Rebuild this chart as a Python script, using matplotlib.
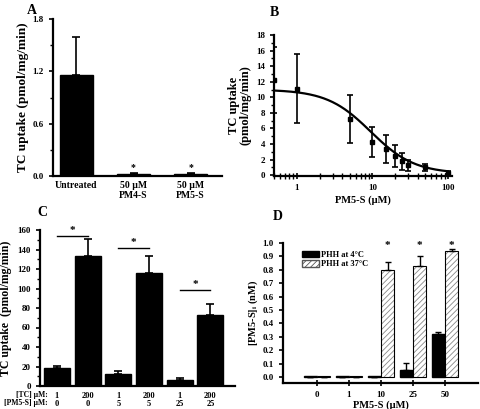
import numpy as np
import matplotlib.pyplot as plt
from matplotlib.ticker import MultipleLocator, LogLocator, NullFormatter
from matplotlib.patches import Patch

plt.rcParams['font.family'] = ['Liberation Serif', 'DejaVu Serif']
plt.rcParams['font.weight'] = 'bold'
plt.rcParams['axes.labelweight'] = 'bold'
plt.rcParams['hatch.linewidth'] = 0.6

# panel A
a_labels = ['Untreated', '50 µM\nPM4-S', '50 µM\nPM5-S']
a_values = [1.16, 0.02, 0.02]
a_err = [0.43, 0.01, 0.01]

# panel B
b_conc = [0.5, 1, 5, 10, 15, 20, 25, 30, 50, 100]
b_uptake = [12.2, 11.1, 7.2, 4.3, 3.4, 2.5, 1.8, 1.3, 1.0, 0.3]
b_err = [4.2, 4.4, 3.1, 1.9, 1.8, 1.4, 1.1, 0.7, 0.5, 0.2]
# fitted sigmoid parameters (top, bottom, IC50, hill)
b_fit = (11.0, 0.2, 9.5, 1.5)

# panel C
c_tc = ['1', '200', '1', '200', '1', '200']
c_pm5s = ['0', '0', '5', '5', '25', '25']
c_values = [18, 133, 12.5, 115.5, 6.5, 72.5]
c_err = [2.5, 18, 3, 17.5, 1.5, 12]
c_sig = [(0, 1, 154), (2, 3, 142), (4, 5, 98)]

# panel D
d_labels = ['0', '1', '10', '25', '50']
d_4c = [0, 0, 0, 0.055, 0.32]
d_4c_err = [0, 0, 0, 0.05, 0.015]
d_37c = [0, 0, 0.795, 0.83, 0.94]
d_37c_err = [0, 0, 0.06, 0.07, 0.015]

W, H = 480, 409
fig = plt.figure(figsize=(W / 100, H / 100), dpi=100)


def box(l, r, t, b):
    return [l / W, (H - b) / H, (r - l) / W, (b - t) / H]


def style(ax):
    for s in ['top', 'right']:
        ax.spines[s].set_visible(False)
    for s in ['left', 'bottom']:
        ax.spines[s].set_linewidth(1.6)
    ax.tick_params(labelsize=6.5, width=1.2, length=3)
    ax.tick_params(which='minor', width=1.0, length=2)


# ---- A
ax = fig.add_axes(box(53, 222, 19, 176))
style(ax)
x = np.arange(len(a_values))
ax.bar(x, a_values, width=0.58, color='black', edgecolor='black')
ax.errorbar(x, a_values, yerr=[np.zeros(3), a_err], fmt='none', ecolor='black',
            elinewidth=1.2, capsize=3, capthick=1.2)
for i in [1, 2]:
    ax.text(i, 0.1, '*', ha='center', va='center', fontsize=7)
ax.set_xlim(-0.41, 2.55)
ax.set_ylim(0, 1.8)
ax.yaxis.set_major_locator(MultipleLocator(0.6))
ax.yaxis.set_minor_locator(MultipleLocator(0.3))
ax.yaxis.set_major_formatter(lambda v, p: f'{v:.1f}')
ax.set_xticks(x, a_labels)
ax.tick_params(axis='x', length=0, labelsize=7)
ax.set_ylabel('TC uptake (pmol/mg/min)', fontsize=9.5, labelpad=3)
fig.text(27 / W, 1 - 10 / H, 'A', fontsize=10, fontweight='bold', va='center')

# ---- B
ax = fig.add_axes(box(274, 452, 35, 176))
style(ax)
ax.set_xscale('log')
top, bot, ic50, hill = b_fit
xc = np.logspace(np.log10(0.5), np.log10(100), 200)
ax.plot(xc, bot + (top - bot) / (1 + (xc / ic50) ** hill), color='black', lw=1.6)
ax.errorbar(b_conc, b_uptake, yerr=b_err, fmt='s', ms=3, color='black',
            elinewidth=1.2, capsize=2.5, capthick=1.2)
ax.set_xlim(0.5, 113)
ax.set_ylim(-0.1, 18)
ax.yaxis.set_major_locator(MultipleLocator(2))
ax.yaxis.set_minor_locator(MultipleLocator(1))
ax.xaxis.set_major_locator(LogLocator(base=10))
ax.xaxis.set_minor_locator(LogLocator(base=10, subs=np.arange(2, 10)))
ax.xaxis.set_minor_formatter(NullFormatter())
ax.xaxis.set_major_formatter(lambda v, p: f'{v:g}')
ax.tick_params(axis='x', direction='inout', length=5)
ax.tick_params(axis='x', which='minor', direction='inout', length=4)
ax.set_xlabel('PM5-S (µM)', fontsize=7.5, labelpad=2)
ax.set_ylabel('TC uptake\n(pmol/mg/min)', fontsize=9, labelpad=3, linespacing=1.0)
fig.text(270 / W, 1 - 12 / H, 'B', fontsize=10, fontweight='bold', va='center')

# ---- C
ax = fig.add_axes(box(40, 235, 230, 386))
style(ax)
x = np.arange(len(c_values))
ax.bar(x, c_values, width=0.85, color='black', edgecolor='black')
ax.errorbar(x, c_values, yerr=[np.zeros(6), c_err], fmt='none', ecolor='black',
            elinewidth=1.2, capsize=3, capthick=1.2)
for i, j, yv in c_sig:
    ax.plot([i, j], [yv, yv], color='black', lw=1.0)
    ax.text((i + j) / 2, yv + 1, '*', ha='center', va='bottom', fontsize=8)
ax.set_xlim(-0.55, 5.8)
ax.set_ylim(0, 160)
ax.yaxis.set_major_locator(MultipleLocator(20))
ax.yaxis.set_minor_locator(MultipleLocator(10))
ax.set_xticks(x, [f'{t}\n{p}' for t, p in zip(c_tc, c_pm5s)])
ax.tick_params(axis='x', length=0, labelsize=6, pad=4)
for lbl in ax.get_xticklabels():
    lbl.set_linespacing(1.05)
ax.set_ylabel('TC uptake  (pmol/mg/min)', fontsize=8.5, labelpad=4)
fig.text(48 / W, 1 - 395 / H, '[TC] µM:', fontsize=5.5, va='center', ha='right')
fig.text(48 / W, 1 - 403 / H, '[PM5-S] µM:', fontsize=5.5, va='center', ha='right')
fig.text(37 / W, 1 - 213 / H, 'C', fontsize=10, fontweight='bold', va='center')

# ---- D
ax = fig.add_axes(box(283, 478, 243, 383))
style(ax)
x = np.arange(len(d_labels))
bw = 0.41
ax.bar(x - bw / 2, np.maximum(d_4c, 0.008), width=bw, color='black', edgecolor='black')
ax.bar(x + bw / 2, np.maximum(d_37c, 0.008), width=bw, color='white', edgecolor='#888888',
       hatch='//////', lw=0)
ax.bar(x + bw / 2, np.maximum(d_37c, 0.008), width=bw, fill=False, edgecolor='black', lw=0.8)
ax.errorbar(x - bw / 2, d_4c, yerr=[np.zeros(5), d_4c_err], fmt='none', ecolor='black',
            elinewidth=1.0, capsize=2, capthick=1.0)
ax.errorbar(x + bw / 2, d_37c, yerr=[np.zeros(5), d_37c_err], fmt='none', ecolor='black',
            elinewidth=1.0, capsize=2, capthick=1.0)
for i in [2, 3, 4]:
    ax.text(i + bw / 2, 0.985, '*', ha='center', va='center', fontsize=8)
ax.legend(handles=[Patch(facecolor='black', edgecolor='black', label='PHH at 4°C'),
                   Patch(facecolor='white', edgecolor='#555555', hatch='//////',
                         label='PHH at 37°C')],
          loc='upper left', bbox_to_anchor=(0.08, 0.97), frameon=False, fontsize=6,
          handlelength=2.0, handleheight=0.8, handletextpad=0.3, labelspacing=0.2,
          borderaxespad=0)
ax.set_xlim(-1.06, 5.03)
ax.set_ylim(-0.045, 1.0)
ax.yaxis.set_major_locator(MultipleLocator(0.1))
ax.yaxis.set_major_formatter(lambda v, p: f'{v:.1f}')
ax.set_xticks(x, d_labels)
ax.tick_params(axis='x', direction='inout', length=4)
ax.set_xlabel('PM5-S (µM)', fontsize=7.5, labelpad=1)
ax.set_ylabel('[PM5-S]$_\\mathregular{i}$ (nM)', fontsize=7.5, labelpad=2)
fig.text(273 / W, 1 - 216 / H, 'D', fontsize=10, fontweight='bold', va='center')

fig.savefig('out.png', dpi=100)
